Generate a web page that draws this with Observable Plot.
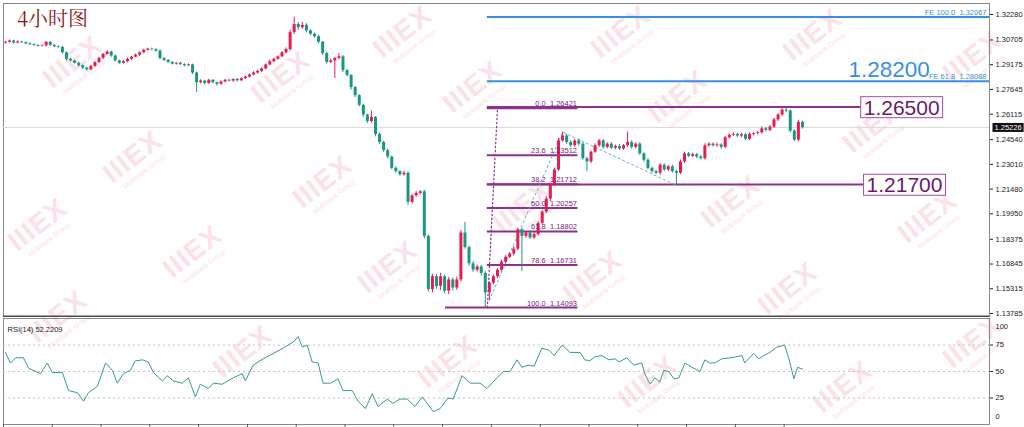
<!DOCTYPE html>
<html><head><meta charset="utf-8">
<script src="https://cdn.jsdelivr.net/npm/d3@7"></script>
<script src="https://cdn.jsdelivr.net/npm/@observablehq/plot@0.6"></script>
<style>
body{margin:0;background:#fff;width:1024px;height:427px;overflow:hidden;position:relative}
#wm{position:absolute;left:0;top:0;width:1024px;height:427px}
.w{position:absolute;transform:translate(-50%,-50%) rotate(-38deg);color:#fae2e6;font-family:"Liberation Sans",sans-serif;text-align:center;white-space:nowrap;line-height:1}
.w b{display:block;font-size:28px;font-weight:bold;letter-spacing:1px}
.w i{display:block;font-size:7px;font-style:normal;margin-top:1px}
#main{position:absolute;left:0;top:0}
#rsi{position:absolute;left:0;top:317px}
#title{position:absolute;left:17px;top:6px;font-size:20px;line-height:24px;color:#8b1a1a;font-family:"Noto Serif CJK SC","Noto Sans CJK SC",serif}
</style></head><body>
<div id="wm"></div>
<div id="main"></div><div id="rsi"></div><div id="title">4小时图</div>
<script>
// ---------- DATA ----------
const firstOpen = 1.3045;
const close = [
1.3050,1.3058,1.3045,1.3052,1.3048,1.3040,1.3035,1.3030,1.3025,1.3028,
1.3050,1.3030,1.3022,1.3018,1.2985,1.2945,1.2935,1.2920,1.2905,1.2890,
1.2880,1.2900,1.2925,1.2950,1.2975,1.2990,1.2965,1.2935,1.2920,1.2930,
1.2945,1.2958,1.2970,1.2985,1.3000,1.3008,1.3005,1.2995,1.2950,1.2938,
1.2925,1.2915,1.2920,1.2912,1.2905,1.2910,1.2860,1.2800,1.2810,1.2795,
1.2815,1.2800,1.2790,1.2805,1.2815,1.2810,1.2820,1.2812,1.2825,1.2835,
1.2848,1.2860,1.2870,1.2885,1.2910,1.2930,1.2945,1.2960,1.2985,1.3005,
1.3110,1.3160,1.3140,1.3155,1.3120,1.3100,1.3085,1.3050,1.2980,1.2925,
1.2935,1.2950,1.2960,1.2875,1.2845,1.2770,1.2720,1.2660,1.2600,1.2560,
1.2585,1.2480,1.2430,1.2380,1.2340,1.2270,1.2250,1.2230,1.2240,1.2060,
1.2100,1.2115,1.2125,1.1850,1.1520,1.1600,1.1540,1.1600,1.1510,1.1580,
1.1530,1.1580,1.1870,1.1780,1.1680,1.1640,1.1660,1.1620,1.1500,1.1560,
1.1600,1.1640,1.1690,1.1720,1.1740,1.1770,1.1890,1.1850,1.1870,1.1840,
1.1860,1.1930,1.2000,1.2080,1.2170,1.2260,1.2440,1.2470,1.2430,1.2410,
1.2440,1.2420,1.2330,1.2310,1.2370,1.2410,1.2440,1.2400,1.2420,1.2395,
1.2405,1.2390,1.2410,1.2430,1.2400,1.2420,1.2360,1.2320,1.2270,1.2250,
1.2240,1.2290,1.2260,1.2280,1.2250,1.2240,1.2310,1.2360,1.2345,1.2355,
1.2340,1.2330,1.2410,1.2420,1.2410,1.2415,1.2400,1.2460,1.2475,1.2480,
1.2470,1.2478,1.2450,1.2480,1.2485,1.2490,1.2515,1.2505,1.2525,1.2570,
1.2600,1.2630,1.2625,1.2500,1.2445,1.2555,1.25226];
// wick lengths in pips above max(open,close) / below min(open,close)
const hiWick = [
5,6,4,7,5,4,6,5,4,6, 5,4,6,5,8,5,6,4,7,5, 6,8,5,7,6,8,5,6,4,7, 6,5,8,6,7,5,6,5,8,4,
5,6,4,7,5,6,5,6,8,5, 6,4,5,7,5,6,4,6,5,7, 6,8,5,7,6,9,7,6,8,10, 15,45,12,18,10,8,7,6,5,8,
10,6,20,8,6,5,7,6,8,5, 40,6,8,7,9,6,10,7,12,8, 10,12,8,10,6,15,12,20,10,15, 12,18,15,66,10,14,12,9,10,8,
10,9,12,10,9,15,12,10,8,9, 12,10,9,15,10,12,15,25,10,12, 8,10,9,10,8,12,10,9,8,10, 9,12,8,65,10,8,9,7,10,8,
9,10,8,9,10,8,12,10,8,9, 8,10,12,9,8,10,7,9,8,10, 8,9,7,10,8,9,12,8,10,10, 10,12,10,8,10,12,8];
const loWick = [
6,5,7,4,6,5,4,6,5,4, 6,5,4,7,8,10,6,5,7,8, 10,6,5,7,6,5,8,6,7,5, 6,8,5,7,6,5,8,6,9,7,
6,5,7,6,8,5,10,60,8,10, 6,8,12,6,7,5,6,8,5,6, 7,5,6,8,6,5,7,6,5,8, 10,12,15,10,12,8,10,9,12,10,
8,109,10,12,10,15,12,10,14,12, 10,15,12,10,12,8,10,9,8,20, 12,8,10,15,15,20,18,25,15,20, 18,15,12,10,14,12,10,15,91,47,
10,12,9,10,8,12,10,218,12,10, 9,10,12,10,15,12,10,8,12,10, 10,12,9,60,10,8,10,12,9,8, 10,9,8,10,12,9,10,12,8,10,
9,12,10,8,10,75,9,10,8,9, 10,8,9,10,8,9,12,8,10,9, 8,10,9,8,10,9,8,10,9,8, 10,9,12,10,10,12,10];
const lastPrice = 1.25226;
const priceTicks = [1.32280,1.30705,1.29175,1.27645,1.26115,1.24540,1.23010,1.21480,1.19950,1.18375,1.16845,1.15315,1.13785];

// Fibonacci retracement
const fibLevels = [0.0, 23.6, 38.2, 50.0, 61.8, 78.6, 100.0];
const fibPrices = [1.26421, 1.23512, 1.21712, 1.20257, 1.18802, 1.16731, 1.14093];
const fibStartBar = [118.5, 118.5, 118.5, 118.5, 118.5, 118.5, 108.2];
const fibEndBar = 140.8;
const fibDiagBar = [118.5, 121];
const fibDiagPrice = [1.14093, 1.26421];

// Fibonacci expansion
const feLevels = [100.0, 61.8];
const fePrices = [1.32067, 1.28088];
const feStartBar = 118.5;
const feAnchorBar = [119, 137, 165];
const feAnchorPrice = [1.14534, 1.2495, 1.21651];

// key levels
const keyPrices = [1.265, 1.217];
const keyLabels = ["1.26500", "1.21700"];
const keyEndBar = [210.8, 211.8];
const keyLabelBar = [220.4, 221.1];
const targetPrice = 1.282;
const targetLabel = "1.28200";
const targetBar = 207.3;

// RSI(14)
const rsiBar = [0,1.2,2.5,4.4,5.7,8.6,10.3,11.5,14,15.5,17.7,19.2,20.4,22.6,24.6,26.3,27.5,29,30.7,31.9,33.7,35.1,36.4,38.6,39.8,41.3,43.5,45,46.7,47.9,49.9,51.1,53.3,56,58.2,59,60.9,63.4,65.8,68.3,70.8,72,73,74.2,75.4,76.9,78.1,79.9,81.8,83,85.3,86.7,88.5,90.2,91.6,93.9,95.3,97,98.8,100.7,102.5,103.9,105.2,106.9,108.8,110.1,112.3,114.3,116.7,118.4,120.9,122.4,124.1,125.8,127,128.7,130,131.9,133.7,134.9,136.9,138.8,141.3,142.5,143.7,145,146.7,148.4,149.9,150.9,152.8,154.5,156.5,157.2,158.5,159.7,160.9,161.9,163.1,164.4,165.6,167.1,168.8,170.8,172,173.2,174.4,176.2,178.6,181.1,181.8,184,185.3,186.5,188,189.7,191.6,192.6,193.9,194.8,196];
const rsiVal = [68,58,63,63,53,48,58,49,49,32,30,22,30,36,58,51,39,48,51,60,61,59,49,41,46,41,39,44,26,38,34,39,38,44,48,41,56,62,67,72,78,83,73,75,59,58,39,39,43,32,32,22,15,29,17,24,20,24,24,17,26,19,12,15,25,24,46,39,39,34,44,50,50,61,54,56,55,72,70,65,75,68,68,61,60,64,65,61,62,59,63,56,58,48,38,44,40,51,50,43,44,58,54,50,61,58,58,62,63,65,58,67,62,65,68,73,75,63,43,54,52.22];
const rsiGrid = [25, 50, 75];
const rsiTicks = [25, 50, 75];
const rsiLabel = "RSI(14) 52.2209";
const timeTicks = [-0.5,11.5,23.5,35.5,47.5,59.5,71.5,83.5,95.5,107.5,119.5,131.5,143.5,155.5,167.5,179.5,191.5];

// ---------- WATERMARK (decoration) ----------
[[75,65],[283,80],[135,160],[40,228],[195,255],[325,185],[405,35],[475,90],[623,35],[815,38],
 [680,100],[875,130],[390,270],[525,210],[595,280],[733,205],[930,220],[790,292],[245,355],
 [450,365],[650,385],[845,390],[975,345],[60,320],[975,60]].forEach(([x, y]) => {
  const d = document.createElement("div");
  d.className = "w"; d.style.left = x + "px"; d.style.top = y + "px";
  d.innerHTML = "<b>IIIEX</b><i>Multibank Group</i>";
  document.getElementById("wm").appendChild(d);
});

// ---------- BUILD ----------
const UP = "#e41e52", DOWN = "#1a9682";
const PURPLE = "#8e318e", PURPLE_T = "#7a2379", BLUE = "#3a8ee6";
const FONT = "Liberation Sans";

const bars = close.map((c, i) => {
  const o = i ? close[i - 1] : firstOpen;
  const top = Math.max(o, c), bot = Math.min(o, c);
  const mid = (o + c) / 2;
  const thin = top - bot < 0.0002;
  return {i, o, c, h: top + hiWick[i] / 1e4, l: bot - loWick[i] / 1e4,
    b1: thin ? mid - 0.0001 : bot, b2: thin ? mid + 0.0001 : top,
    col: c >= o ? UP : DOWN};
});
const fibRows = fibLevels.map((lvl, k) => ({lvl, p: fibPrices[k], x1: fibStartBar[k], x2: fibEndBar}));
const feRows = feLevels.map((lvl, k) => ({lvl, p: fePrices[k]}));
const keyRows = keyPrices.map((p, k) => ({p, label: keyLabels[k], x2: keyEndBar[k], lx: keyLabelBar[k]}));
const fibDiag = fibDiagBar.map((b, k) => ({b, p: fibDiagPrice[k]}));
const feAnch = feAnchorBar.map((b, k) => ({b, p: feAnchorPrice[k]}));
const rsi = rsiBar.map((b, k) => ({b, v: rsiVal[k]}));

const XD = [-0.49, 242.0];
const XMAX = XD[1];

const main = Plot.plot({
  width: 1024, height: 317,
  marginLeft: 3, marginRight: 35, marginTop: 3, marginBottom: 1,
  x: {domain: XD, axis: null},
  y: {domain: [1.13538, 1.32899], axis: null},
  color: {type: "identity"},
  style: {background: "transparent", fontFamily: FONT},
  marks: [
    Plot.frame({stroke: "#8a8a8a"}),
    Plot.ruleY([lastPrice], {stroke: "#d9d9d9"}),
    Plot.ruleY(feRows, {y: "p", x1: feStartBar, x2: XMAX, stroke: BLUE, strokeWidth: 2}),
    Plot.ruleY(fibRows, {y: "p", x1: "x1", x2: "x2", stroke: PURPLE, strokeWidth: 2}),
    Plot.ruleY(keyRows, {y: "p", x1: feStartBar, x2: "x2", stroke: PURPLE, strokeWidth: 2}),
    Plot.line(fibDiag, {x: "b", y: "p", stroke: PURPLE, strokeWidth: 1.2, strokeDasharray: "1.5,2.5"}),
    Plot.line(feAnch, {x: "b", y: "p", stroke: "#6ea6e0", strokeWidth: 1, strokeDasharray: "2,3"}),
    Plot.ruleX(bars, {x: "i", y1: "l", y2: "h", stroke: "col", strokeWidth: 1}),
    Plot.ruleX(bars, {x: "i", y1: "b1", y2: "b2", stroke: "col", strokeWidth: 3}),
    Plot.text(fibRows, {x: fibEndBar, y: "p", text: d => `${d.lvl.toFixed(1)}  ${d.p.toFixed(5)}`,
      textAnchor: "end", lineAnchor: "bottom", dy: -2, dx: -1, fill: PURPLE_T, fontSize: 7.5, fontFamily: FONT}),
    Plot.text(feRows, {x: XMAX, y: "p", text: d => `FE ${d.lvl.toFixed(1)}  ${d.p.toFixed(5)}`,
      textAnchor: "end", lineAnchor: "bottom", dy: -2, dx: -3, fill: BLUE, fontSize: 7.5, fontFamily: FONT}),
    Plot.text([targetPrice], {x: targetBar, y: d => d, text: [targetLabel], textAnchor: "start",
      lineAnchor: "bottom", dy: -2, fill: BLUE, fontSize: 22.5, fontFamily: FONT}),
    Plot.text(keyRows, {x: "lx", y: "p", text: "label", textAnchor: "middle", lineAnchor: "middle",
      dy: 1, fill: "#6a1a6a", fontSize: 21, fontFamily: FONT}),
    Plot.axisY(priceTicks, {anchor: "right", label: null, tickSize: 3, tickPadding: 3, tickFormat: d => d.toFixed(5),
      fontSize: 7.5, fontFamily: FONT, color: "#222", dy: 1}),
    Plot.text([lastPrice], {y: d => d, frameAnchor: "right", dx: 5, textAnchor: "start", text: d => d.toFixed(5),
      fill: "white", fontSize: 7.5, fontFamily: FONT, lineAnchor: "middle"}),
    Plot.ruleY([1.13538], {stroke: "#4a4a4a", strokeWidth: 2})
  ]
});
document.getElementById("main").appendChild(main);

const rsiPlot = Plot.plot({
  width: 1024, height: 110,
  marginLeft: 3, marginRight: 35, marginTop: 1, marginBottom: 3,
  x: {domain: XD, axis: null},
  y: {domain: [0, 100], axis: null},
  style: {background: "transparent", fontFamily: FONT},
  marks: [
    Plot.frame({stroke: "#8a8a8a"}),
    Plot.ruleY(rsiGrid, {stroke: "#c4c4c4", strokeDasharray: "2,3"}),
    Plot.line(rsi, {x: "b", y: "v", stroke: "#3a9a90", strokeWidth: 1}),
    Plot.axisY(rsiTicks, {anchor: "right", label: null, tickSize: 3, tickPadding: 3, fontSize: 7.5, fontFamily: FONT, color: "#222"}),
    Plot.text(["100"], {frameAnchor: "top-right", dx: 6, dy: 5, textAnchor: "start", fontSize: 7.5, fontFamily: FONT, fill: "#222"}),
    Plot.text(["0"], {frameAnchor: "bottom-right", dx: 6, dy: -6, textAnchor: "start", fontSize: 7.5, fontFamily: FONT, fill: "#222"}),
    Plot.text([rsiLabel], {frameAnchor: "top-left", dx: 4, dy: 8, textAnchor: "start", fontSize: 7.5, fontFamily: FONT, fill: "#222"}),
    Plot.axisX(timeTicks, {anchor: "bottom", label: null, tickSize: 3, tickFormat: () => "", stroke: "#555"})
  ]
});
document.getElementById("rsi").appendChild(rsiPlot);

// framed labels
function addBoxes(svg, specs) {
  svg.querySelectorAll("text").forEach(t => {
    const s = specs[t.textContent];
    if (!s) return;
    const b = t.getBBox();
    const r = document.createElementNS("http://www.w3.org/2000/svg", "rect");
    r.setAttribute("x", b.x - s.px); r.setAttribute("y", b.y - s.py);
    r.setAttribute("width", b.width + 2 * s.px); r.setAttribute("height", b.height + 2 * s.py);
    r.setAttribute("fill", s.fill); r.setAttribute("stroke", s.stroke || "none");
    const tr = t.getAttribute("transform"); if (tr) r.setAttribute("transform", tr);
    t.parentNode.insertBefore(r, t);
  });
}
const specs = {};
keyLabels.forEach(l => specs[l] = {px: 3, py: -1, fill: "white", stroke: "#a94aa9"});
specs[lastPrice.toFixed(5)] = {px: 2, py: 0, fill: "#111"};
addBoxes(main, specs);
</script></body></html>
